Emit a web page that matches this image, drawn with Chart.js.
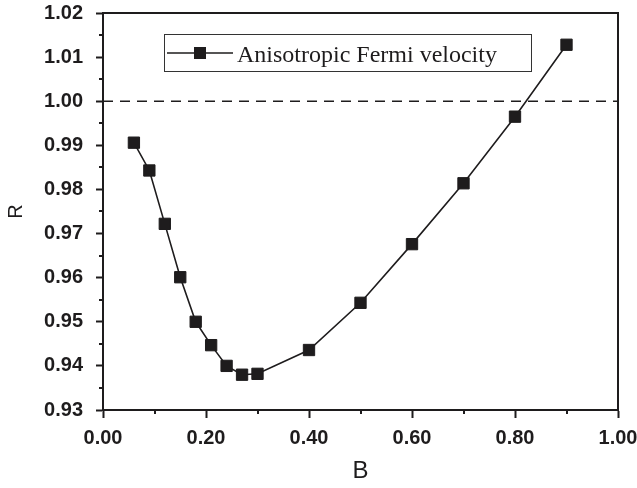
<!DOCTYPE html>
<html>
<head>
<meta charset="utf-8">
<script src="https://cdn.jsdelivr.net/npm/chart.js@4.4.1/dist/chart.umd.min.js"></script>
<style>
  html, body { margin: 0; padding: 0; background: #fff; }
  #wrap { width: 637px; height: 488px; }
</style>
</head>
<body>
<div id="wrap"><canvas id="chart" width="637" height="488"></canvas></div>
<script>
// values
const bValues = [0.06, 0.09, 0.12, 0.15, 0.18, 0.21, 0.24, 0.27, 0.30, 0.40, 0.50, 0.60, 0.70, 0.80, 0.90];
const rValues = [0.9906, 0.9843, 0.9722, 0.9601, 0.9500, 0.9447, 0.9400, 0.9380, 0.9382, 0.9436, 0.9543, 0.9676, 0.9814, 0.9965, 1.0128];
const seriesLabel = "Anisotropic Fermi velocity";
const refLevel = 1.00;
const xRange = [0, 1];
const yRange = [0.93, 1.02];

const ink = "#1e1c1d";

const isMajorX = v => Math.round(v * 10) % 2 === 0;
const isMajorY = v => Math.round(v * 1000) % 10 === 0;

// box on top/right, minor ticks and the legend
const extras = {
    id: "extras",
    afterDraw(chart) {
        const ctx = chart.ctx;
        const a = chart.chartArea;
        const xs = chart.scales.x, ys = chart.scales.y;
        ctx.save();
        ctx.strokeStyle = ink;
        ctx.lineWidth = 2;
        ctx.beginPath();
        ctx.moveTo(a.left, a.top);
        ctx.lineTo(a.right, a.top);
        ctx.lineTo(a.right, a.bottom);
        ctx.stroke();

        ctx.lineWidth = 2;
        xs.ticks.forEach(t => {
            if (isMajorX(t.value)) return;
            const px = Math.round(xs.getPixelForValue(t.value));
            ctx.beginPath();
            ctx.moveTo(px, a.bottom);
            ctx.lineTo(px, a.bottom + 4);
            ctx.stroke();
        });
        ys.ticks.forEach(t => {
            if (isMajorY(t.value)) return;
            const py = Math.round(ys.getPixelForValue(t.value));
            ctx.beginPath();
            ctx.moveTo(a.left, py);
            ctx.lineTo(a.left - 4, py);
            ctx.stroke();
        });

        // legend
        const lx = a.left + 61, ly = a.top + 21, lw = 367, lh = 37;
        ctx.lineWidth = 1;
        ctx.strokeStyle = "#333";
        ctx.strokeRect(lx + 0.5, ly + 0.5, lw, lh);
        const cy = ly + 19;
        ctx.strokeStyle = ink;
        ctx.lineWidth = 1.6;
        ctx.beginPath();
        ctx.moveTo(lx + 3, cy);
        ctx.lineTo(lx + 69, cy);
        ctx.stroke();
        ctx.fillStyle = ink;
        ctx.fillRect(lx + 30, cy - 6, 12, 12);
        ctx.font = "24px 'Liberation Serif', 'Times New Roman', serif";
        ctx.textBaseline = "alphabetic";
        ctx.textAlign = "left";
        ctx.fillText(seriesLabel, lx + 73, ly + 28);
        ctx.restore();
    }
};

const ctx = document.getElementById("chart").getContext("2d");
new Chart(ctx, {
    type: "scatter",
    data: {
        datasets: [{
            label: seriesLabel,
            data: bValues.map((b, i) => ({ x: b, y: rValues[i] })),
            showLine: true,
            borderColor: ink,
            borderWidth: 1.6,
            backgroundColor: ink,
            pointStyle: "rect",
            pointRadius: 8,
            pointHoverRadius: 8,
            pointBorderWidth: 1,
            pointBorderColor: ink
        }, {
            label: "R = 1",
            data: xRange.map(x => ({ x: x, y: refLevel })),
            showLine: true,
            borderColor: ink,
            borderWidth: 1.6,
            borderDash: [10, 7],
            pointRadius: 0
        }]
    },
    options: {
        responsive: false,
        animation: false,
        layout: { padding: { left: 0, right: 19, top: 13, bottom: 0 } },
        plugins: {
            legend: { display: false },
            tooltip: { enabled: false }
        },
        scales: {
            x: {
                type: "linear",
                min: xRange[0],
                max: xRange[1],
                afterFit: s => { s.height = 78; s.paddingLeft = 0; s.paddingRight = 0; },
                border: { display: true, color: ink, width: 2 },
                grid: {
                    drawOnChartArea: false,
                    drawTicks: true,
                    tickLength: 8,
                    tickWidth: 2,
                    tickColor: c => isMajorX(c.tick.value) ? ink : "transparent"
                },
                ticks: {
                    stepSize: 0.1,
                    maxRotation: 0,
                    autoSkip: false,
                    padding: 8,
                    color: ink,
                    font: { family: "'Liberation Sans', Arial, sans-serif", size: 20, weight: "bold" },
                    callback: v => isMajorX(v) ? v.toFixed(2) : ""
                },
                title: {
                    display: true,
                    text: "B",
                    color: ink,
                    padding: { top: 0, bottom: 2 },
                    font: { family: "'Liberation Sans', Arial, sans-serif", size: 24 }
                }
            },
            y: {
                type: "linear",
                min: yRange[0],
                max: yRange[1],
                afterFit: s => { s.width = 103; s.paddingTop = 0; s.paddingBottom = 0; },
                border: { display: true, color: ink, width: 2 },
                grid: {
                    drawOnChartArea: false,
                    drawTicks: true,
                    tickLength: 7,
                    tickWidth: 2,
                    tickColor: c => isMajorY(c.tick.value) ? ink : "transparent"
                },
                ticks: {
                    stepSize: 0.005,
                    autoSkip: false,
                    padding: 13,
                    color: ink,
                    font: { family: "'Liberation Sans', Arial, sans-serif", size: 20, weight: "bold" },
                    callback: v => isMajorY(v) ? v.toFixed(2) : ""
                },
                title: {
                    display: true,
                    text: "R",
                    color: ink,
                    padding: { top: 4, bottom: 0 },
                    font: { family: "'Liberation Sans', Arial, sans-serif", size: 20 }
                }
            }
        }
    },
    plugins: [extras]
});
</script>
</body>
</html>
